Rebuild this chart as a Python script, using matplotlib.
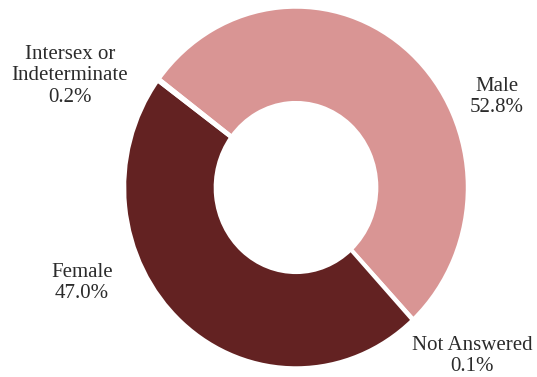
import matplotlib
matplotlib.use("Agg")
from matplotlib import pyplot as plt

# slices in clockwise order, starting upper left
labels = ["Male", "Not Answered", "Female", "Intersex or\nIndeterminate"]
shares = [52.8, 0.1, 47.0, 0.2]
colors = ["#d99594", "#d99594", "#632222", "#632222"]

W, H = 537, 377
cx, cy = 296, 187.5      # centre of the donut, pixels
rx, ry = 171.5, 180.5    # outer radii, pixels

fig = plt.figure(figsize=(W / 100, H / 100), dpi=100)
ax = fig.add_axes([0, 0, 1, 1])
ax.pie(shares, colors=colors, startangle=143, counterclock=False,
       wedgeprops=dict(width=0.53, edgecolor="white", linewidth=2.5))
ax.set_aspect("auto")
ax.set_xlim(-cx / rx, (W - cx) / rx)
ax.set_ylim((cy - H) / ry, cy / ry)
ax.axis("off")

# label text, placed by hand next to each slice
label_pos = {"Male": (497, 97), "Not Answered": (472, 356),
             "Female": (82, 283), "Intersex or\nIndeterminate": (70, 76)}
for name, val in zip(labels, shares):
    x, y = label_pos[name]
    fig.text(x / W, 1 - y / H, f"{name}\n{val:.1f}%", ha="center", va="center",
             fontsize=15, family="Liberation Serif", color="#2b2b2b",
             linespacing=1.15)

fig.savefig("out.png", dpi=100)
